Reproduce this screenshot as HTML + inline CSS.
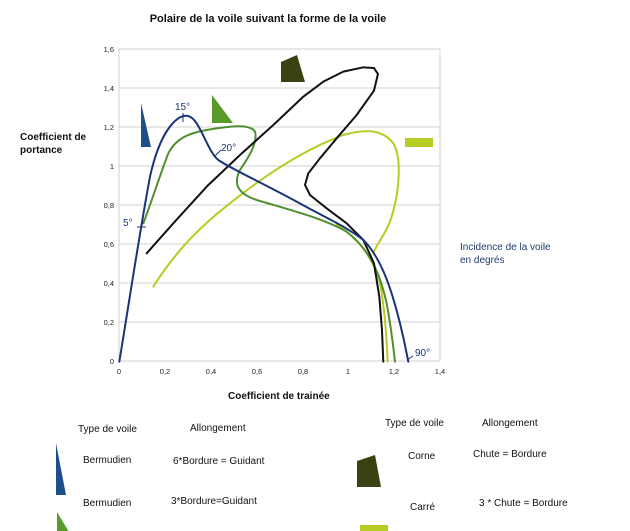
<!DOCTYPE html>
<html><head><meta charset="utf-8"><style>
body{margin:0;background:#fff;}
svg{display:block;font-family:"Liberation Sans",sans-serif;}
</style></head><body>
<svg width="630" height="531" viewBox="0 0 630 531">
<rect width="630" height="531" fill="#fff"/>
<text x="268" y="22" font-size="11" font-weight="bold" text-anchor="middle" fill="#111">Polaire de la voile suivant la forme de la voile</text>
<g stroke="#d0d0d0" stroke-width="1">
<line x1="119" y1="49" x2="440" y2="49"/><line x1="119" y1="88" x2="440" y2="88"/>
<line x1="119" y1="127" x2="440" y2="127"/><line x1="119" y1="166" x2="440" y2="166"/>
<line x1="119" y1="205" x2="440" y2="205"/><line x1="119" y1="244" x2="440" y2="244"/>
<line x1="119" y1="283" x2="440" y2="283"/><line x1="119" y1="322" x2="440" y2="322"/>
<line x1="119" y1="361" x2="440" y2="361"/>
<line x1="119" y1="49" x2="119" y2="361"/><line x1="440" y1="49" x2="440" y2="361"/>
</g>
<g font-size="7.5" fill="#222" text-anchor="end">
<text x="114" y="52">1,6</text><text x="114" y="91">1,4</text><text x="114" y="130">1,2</text>
<text x="114" y="169">1</text><text x="114" y="208">0,8</text><text x="114" y="247">0,6</text>
<text x="114" y="286">0,4</text><text x="114" y="325">0,2</text><text x="114" y="364">0</text>
</g>
<g font-size="7.5" fill="#222" text-anchor="middle">
<text x="119" y="374">0</text><text x="165" y="374">0,2</text><text x="211" y="374">0,4</text>
<text x="257" y="374">0,6</text><text x="303" y="374">0,8</text><text x="348" y="374">1</text>
<text x="394" y="374">1,2</text><text x="440" y="374">1,4</text>
</g>
<g transform="translate(90,30) scale(0.3333)" fill="none" stroke-width="6" stroke-linejoin="round" stroke-linecap="round">
<path stroke="#b7cc22" d="M190,770 C260,660 330,590 420,520 C520,440 640,360 760,315 C830,295 880,300 910,340 C935,380 930,480 905,560 C890,610 860,640 850,670"/>
<path stroke="#b7cc22" d="M740,585 C800,620 850,680 870,760 C885,840 890,920 893,995"/>
<path stroke="#4f8f2f" d="M160,580 C190,500 215,420 235,370 C255,330 290,310 350,300 C420,288 480,280 495,305 C505,340 470,390 450,420 C430,460 440,490 500,510 C600,540 700,565 770,605 C840,660 870,730 890,820 C905,900 910,950 915,995"/>
<polyline stroke="#111" points="170,670 250,580 350,470 450,375 550,285 640,200 700,155 760,125 820,112 852,114 864,132 852,182 800,255 740,325 690,385 655,430 645,465 660,495 710,535 770,580 820,630 852,700 868,800 876,900 880,995"/>
<path stroke="#1a3577" d="M88,995 C120,800 150,600 180,440 C200,350 230,290 265,265 C290,250 305,258 320,280 C345,320 360,370 385,390 C430,420 520,460 620,515 C700,560 770,590 820,630 C880,690 910,800 930,880 C945,940 950,970 955,995"/>
</g>
<g stroke="#1a3577" stroke-width="1"><line x1="183" y1="113" x2="183" y2="122"/><line x1="214" y1="157" x2="221" y2="150"/><line x1="137" y1="227" x2="146" y2="227"/><line x1="407" y1="360" x2="413" y2="356"/></g>
<g font-size="10" fill="#1a3577">
<text x="175" y="110">15°</text><text x="221" y="151">20°</text><text x="123" y="226">5°</text><text x="415" y="356">90°</text>
</g>
<polygon points="141,103 151,147 141,147" fill="#1f4f8a"/>
<polygon points="212,95 233,123 212,123" fill="#5a9a2a"/>
<polygon points="281,62 297,55 305,82 281,82" fill="#3a4214"/>
<rect x="405" y="138" width="28" height="9" fill="#b7cc22"/>
<g font-size="10" font-weight="bold" fill="#111">
<text x="20" y="140">Coefficient de</text><text x="20" y="153">portance</text>
<text x="228" y="399">Coefficient de trainée</text>
</g>
<g font-size="10" fill="#1f3d6e"><text x="460" y="250">Incidence de la voile</text><text x="460" y="263">en degrés</text></g>
<g font-size="10" fill="#111">
<text x="78" y="432">Type de voile</text><text x="190" y="431">Allongement</text>
<text x="83" y="463">Bermudien</text><text x="173" y="464">6*Bordure = Guidant</text>
<text x="83" y="506">Bermudien</text><text x="171" y="504">3*Bordure=Guidant</text>
<text x="385" y="426">Type de voile</text><text x="482" y="426">Allongement</text>
<text x="408" y="459">Corne</text><text x="473" y="457">Chute = Bordure</text>
<text x="410" y="510">Carré</text><text x="479" y="506">3 * Chute = Bordure</text>
</g>
<polygon points="56,443 66,495 56,495" fill="#1f4f8a"/>
<polygon points="57,512 78,547 57,547" fill="#5a9a2a"/>
<polygon points="357,461 375,455 381,487 357,487" fill="#3a4214"/>
<rect x="360" y="525" width="28" height="10" fill="#b7cc22"/>
</svg>
</body></html>
